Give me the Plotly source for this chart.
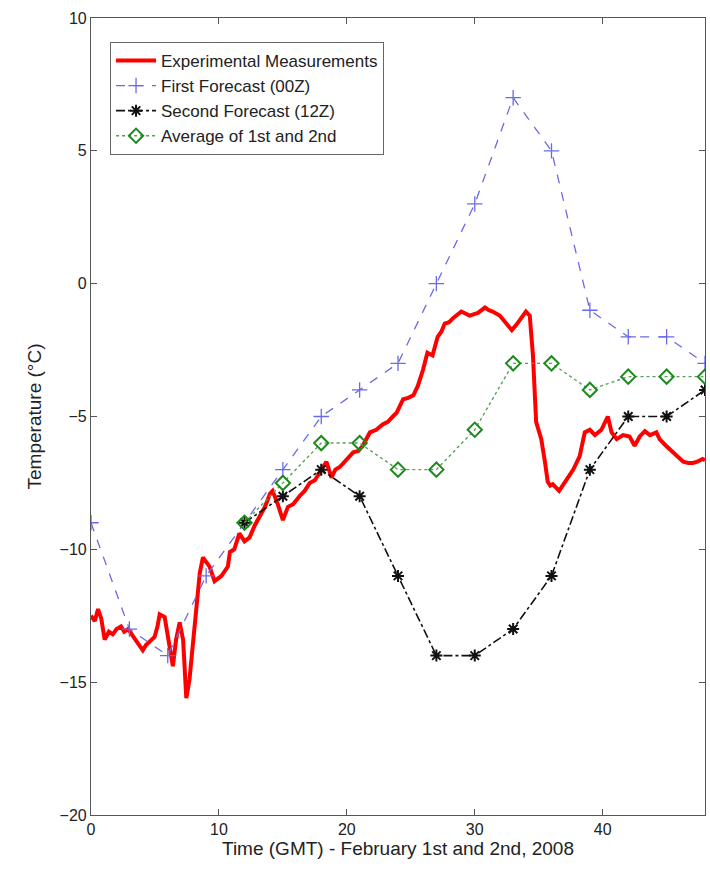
import plotly.graph_objects as go

# Experimental measurements (hours, °C)
exp_t = [0.0, 0.3, 0.55, 0.8, 1.07, 1.4, 1.7, 2.0, 2.35, 2.6, 2.9, 3.3, 3.7, 4.05, 4.3, 4.6, 4.97,
         5.2, 5.37, 5.76, 6.0, 6.15, 6.4, 6.65, 6.93, 7.2, 7.45, 7.7, 7.9, 8.1, 8.5, 8.75, 9.0,
         9.27, 9.66, 10.2, 10.7, 10.86, 11.2, 11.6, 12.0, 12.4, 12.8, 13.2, 13.6, 14.0, 14.2,
         14.6, 15.0, 15.4, 15.8, 16.3, 16.7, 17.1, 17.5, 17.9, 18.4, 18.8, 19.1, 19.45, 20.0,
         20.5, 20.9, 21.25, 21.8, 22.3, 22.8, 23.2, 23.6, 23.9, 24.4, 24.8, 25.2, 25.55, 25.95,
         26.3, 26.7, 27.1, 27.4, 27.65, 28.0, 28.3, 28.95, 29.3, 29.6, 30.25, 30.8, 31.1, 31.4,
         31.95, 32.5, 32.9, 33.25, 33.65, 34.0, 34.3, 34.55, 34.8, 35.2, 35.5, 35.7, 35.9, 36.1,
         36.6, 37.2, 37.7, 38.2, 38.6, 39.0, 39.4, 39.9, 40.4, 40.7, 41.1, 41.6, 42.1, 42.5,
         42.9, 43.3, 43.7, 44.2, 44.45, 44.95, 45.5, 45.9, 46.3, 46.7, 47.05, 47.4, 47.8, 48.0]
exp_v = [-12.5, -12.7, -12.25, -12.6, -13.4, -13.1, -13.2, -13.0, -12.9, -13.1, -13.0, -13.3,
         -13.6, -13.8, -13.6, -13.45, -13.3, -12.9, -12.45, -12.55, -13.2, -13.75, -14.4,
         -13.4, -12.75, -13.4, -15.6, -14.9, -13.8, -12.75, -10.9, -10.3, -10.5, -10.65, -11.2,
         -11.0, -10.65, -10.1, -10.0, -9.4, -9.7, -9.55, -9.1, -8.75, -8.4, -7.9, -7.8, -8.3,
         -8.9, -8.4, -8.3, -8.0, -7.8, -7.5, -7.4, -7.1, -6.7, -7.3, -7.0, -6.9, -6.6, -6.35,
         -6.3, -6.1, -5.6, -5.5, -5.3, -5.2, -5.0, -4.85, -4.35, -4.3, -4.2, -3.85, -3.25, -2.6,
         -2.7, -2.0, -1.8, -1.5, -1.45, -1.3, -1.05, -1.15, -1.2, -1.1, -0.9, -1.0, -1.05, -1.2,
         -1.55, -1.75, -1.55, -1.3, -1.05, -1.2, -2.7, -5.2, -5.85, -6.75, -7.45, -7.6, -7.55,
         -7.8, -7.35, -7.0, -6.5, -5.6, -5.5, -5.7, -5.5, -5.0, -5.6, -5.85, -5.7, -5.75, -6.1,
         -5.75, -5.55, -5.7, -5.6, -5.85, -6.1, -6.35, -6.5, -6.7, -6.75, -6.75, -6.7, -6.6,
         -6.65]

# First forecast (00Z)
f1_t = [0, 3, 6, 9, 12, 15, 18, 21, 24, 27, 30, 33, 36, 39, 42, 45, 48]
f1_v = [-9, -13, -14, -11, -9, -7, -5, -4, -3, 0, 3, 7, 5, -1, -2, -2, -3]

# Second forecast (12Z)
f2_t = [12, 15, 18, 21, 24, 27, 30, 33, 36, 39, 42, 45, 48]
f2_v = [-9, -8, -7, -8, -11, -14, -14, -13, -11, -7, -5, -5, -4]

# Average of 1st and 2nd
avg_t = [12, 15, 18, 21, 24, 27, 30, 33, 36, 39, 42, 45, 48]
avg_v = [-9, -7.5, -6, -6, -7, -7, -5.5, -3, -3, -4, -3.5, -3.5, -3.5]

x_ticks = [0, 10, 20, 30, 40]
y_ticks = [-20, -15, -10, -5, 0, 5, 10]

fig = go.Figure()
fig.add_trace(go.Scatter(x=exp_t, y=exp_v, mode="lines", name="Experimental Measurements",
                         line=dict(color="#ff0000", width=4)))
fig.add_trace(go.Scatter(x=f1_t, y=f1_v, mode="lines+markers", name="First Forecast (00Z)",
                         line=dict(color="#6a6ae8", width=1.3, dash="dash"),
                         marker=dict(symbol="cross-thin-open", size=11,
                                     line=dict(color="#3a3ae0", width=1.3))))
fig.add_trace(go.Scatter(x=f2_t, y=f2_v, mode="lines+markers", name="Second Forecast (12Z)",
                         line=dict(color="#111111", width=1.6, dash="dashdot"),
                         marker=dict(symbol="asterisk-open", size=10,
                                     line=dict(color="#000000", width=2))))
fig.add_trace(go.Scatter(x=avg_t, y=avg_v, mode="lines+markers", name="Average of 1st and 2nd",
                         line=dict(color="#5aa05a", width=1.4, dash="dot"),
                         marker=dict(symbol="diamond-open", size=11, color="#1e8a1e",
                                     line=dict(color="#1e8a1e", width=2))))

axis_common = dict(showline=True, linecolor="#555555", linewidth=1.2, mirror="ticks",
                   ticks="inside", ticklen=6, tickcolor="#555555", showgrid=False,
                   zeroline=False, tickfont=dict(family="Liberation Sans, Arial", size=16,
                                                 color="#222222"))

fig.update_layout(
    width=710, height=870,
    margin=dict(l=91, r=5, t=18, b=55),
    plot_bgcolor="white", paper_bgcolor="white",
    font=dict(family="Liberation Sans, Arial", size=16, color="#222222"),
    xaxis=dict(range=[0, 48], tickvals=x_ticks,
               title=dict(text="Time (GMT) - February 1st and 2nd, 2008", standoff=2,
                          font=dict(size=19)),
               **axis_common),
    yaxis=dict(range=[-20, 10], tickvals=y_ticks,
               title=dict(text="Temperature (°C)", standoff=12, font=dict(size=19)),
               **axis_common),
    showlegend=True,
    legend=dict(x=0.031, y=0.97, xanchor="left", yanchor="top",
                bgcolor="white", bordercolor="#666666", borderwidth=1,
                font=dict(size=17), tracegroupgap=0, itemwidth=40),
)

fig.write_html("out.html", config={"displayModeBar": False},
               post_script="document.body.style.margin='0';document.body.style.overflow='hidden';")
